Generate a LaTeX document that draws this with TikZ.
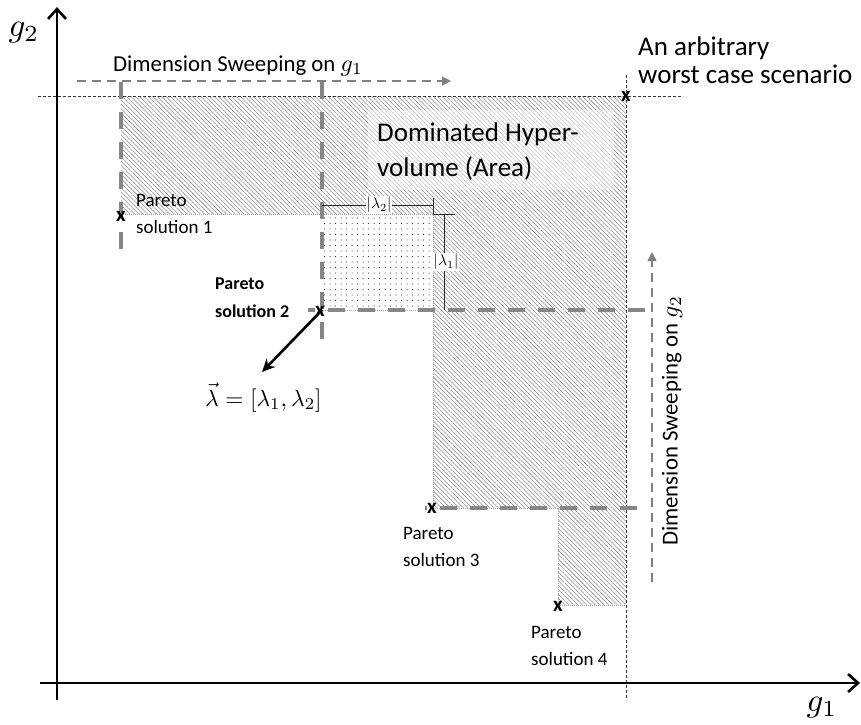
\documentclass[tikz,border=0pt]{standalone}
\usepackage{fontspec}
\setmainfont{Carlito}
\usetikzlibrary{arrows.meta,patterns.meta}
\newcommand{\mth}[2]{\scalebox{#1}{\fontsize{10}{12}\selectfont$#2$}}
\begin{document}
\begin{tikzpicture}[x=1pt,y=-1pt,
  axis/.style={line width=2.6pt, -{Straight Barb[length=10pt,width=18pt]}},
  sweepline/.style={draw=gray!95, line width=3.8pt, dash pattern=on 17pt off 13pt},
  sweeparrow/.style={draw=gray, line width=1.4pt, dash pattern=on 9pt off 6pt, -{Triangle[length=9pt,width=9pt]}},
  worstline/.style={draw=black!80, line width=0.8pt, dash pattern=on 3pt off 2pt},
  edgeline/.style={draw=gray!70, line width=0.6pt, dash pattern=on 1pt off 1pt},
  dimline/.style={draw=black!85, line width=0.8pt},
  xmk/.style={font=\fontsize{21}{21}\selectfont\bfseries, inner sep=0pt},
  lbl/.style={font=\fontsize{19}{27}\selectfont, align=left, inner sep=0pt, anchor=base west},
  big/.style={font=\fontsize{27}{35}\selectfont, align=left, inner sep=0pt, anchor=base west},
  mid/.style={font=\fontsize{22.8}{26}\selectfont, inner sep=0pt}]
\useasboundingbox (0,0) rectangle (861,724);
% points
\coordinate (W) at (626,96);
\coordinate (P1) at (121,214);
\coordinate (P2) at (322,310);
\coordinate (P3) at (433,508);
\coordinate (P4) at (558,605);
% hatched dominated region
\path[pattern={Lines[angle=-45,distance=3.1pt,line width=0.55pt]}, pattern color=gray!90]
  (121,96) -- (626,96) -- (626,605) -- (558,605) -- (558,508) -- (433,508)
  -- (433,310) -- (322,310) -- (322,214) -- (121,214) -- cycle;
\draw[edgeline] (P1) -- (322,214) -- (P2) -- (433,310) -- (P3) -- (558,508) -- (P4) -- (626,605);
% dotted rectangle
\fill[white] (322,214) rectangle (433,310);
\path[pattern={Dots[distance=5.5pt,radius=0.5pt]}, pattern color=black] (322,214) rectangle (433,310);
\draw[edgeline] (322,214) -- (433,214) -- (433,310);
% light box behind text
\fill[white, opacity=0.45] (368,110) rectangle (614,190);
\node[big] (dom) at (377,176) {Dominated Hyper-\\volume (Area)};
% worst case lines
\coordinate (wl) at (38,96);
\coordinate (wr) at (683,96);
\coordinate (wt) at (626,75);
\coordinate (wb) at (626,700);
\draw[worstline] (wl) -- (wr);
\draw[worstline] (wt) -- (wb);
% axes
\coordinate (ox) at (40,683);
\coordinate (ex) at (860,683);
\coordinate (oy) at (57,700);
\coordinate (ey) at (57,7);
\draw[axis] (ox) -- (ex);
\draw[axis] (oy) -- (ey);
\node[inner sep=0pt] (g2) at (24,33) {\mth{3.3}{g_2}};
\node[inner sep=0pt] (g1) at (822,708) {\mth{3.3}{g_1}};
% sweeping lines
\coordinate (v1t) at (121,82);  \coordinate (v1b) at (121,249);
\coordinate (v2t) at (322,82);  \coordinate (v2b) at (322,346);
\coordinate (h1l) at (308,310); \coordinate (h1r) at (645,310);
\coordinate (h2l) at (425,508); \coordinate (h2r) at (637,508);
\draw[sweepline] (v1t) -- (v1b);
\draw[sweepline] (v2t) -- (v2b);
\draw[sweepline] (h1r) -- (h1l);
\draw[sweepline] (h2r) -- (h2l);
% sweeping arrows
\coordinate (s1a) at (77,81); \coordinate (s1b) at (451,81);
\draw[sweeparrow] (s1a) -- (s1b);
\node[mid, anchor=base west] (s1t) at (113,71) {Dimension Sweeping on \mth{2.4}{g_1}};
\coordinate (s2a) at (652,582); \coordinate (s2b) at (652,252);
\draw[sweeparrow] (s2a) -- (s2b);
\node[mid, rotate=90] (s2t) at (672,421) {Dimension Sweeping on \mth{2.4}{g_2}};
% worst case label
\node[font=\fontsize{27}{28}\selectfont, align=left, inner sep=0pt, anchor=base west] (wc) at (638,83) {An arbitrary\\worst case scenario};
% dimension lines lambda
\draw[dimline] (322,205) -- (433,205);
\draw[dimline] (433,198) -- (433,214) -- (455,214);
\draw[dimline] (444,214) -- (444,310);
\node[fill=white, inner sep=0.8pt] (l2) at (379,205) {\mth{1.55}{|\lambda_2|}};
\node[fill=white, inner sep=0.8pt] (l1) at (446,262) {\mth{1.55}{|\lambda_1|}};
% lambda arrow
\coordinate (lt) at (262,372);
\draw[line width=2.6pt, -{Stealth[length=13pt,width=12pt]}] (P2) -- (lt);
\node[inner sep=0pt, anchor=base west] (lv) at (205,406) {\mth{2.34}{\vec{\lambda}=[\lambda_1,\lambda_2]}};
% markers
\node[xmk] (x1) at (121,216) {x};
\node[xmk] (x2) at (320,311) {x};
\node[xmk] (x3) at (432,508) {x};
\node[xmk] (x4) at (558,606) {x};
\node[xmk] (xw) at (626,96) {x};
% labels
\node[lbl] (t1) at (136,233) {Pareto\\solution 1};
\node[lbl, font=\fontsize{18}{28}\selectfont\bfseries] (t2) at (215,317) {Pareto\\solution 2};
\node[lbl] (t3) at (403,566) {Pareto\\solution 3};
\node[lbl] (t4) at (531,665) {Pareto\\solution 4};
\end{tikzpicture}
\end{document}
